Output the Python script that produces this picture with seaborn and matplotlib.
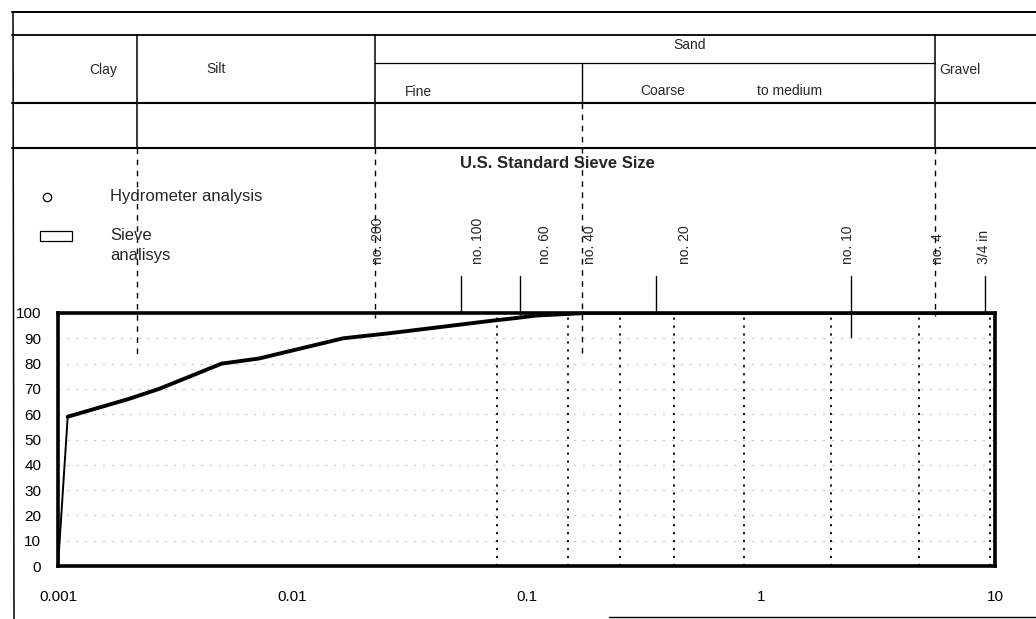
import matplotlib
matplotlib.use("Agg")
import matplotlib.pyplot as plt
from matplotlib.lines import Line2D
from matplotlib.patches import Rectangle
import pandas as pd
import seaborn as sns

# ---- grain-size distribution: particle diameter (mm) vs percent passing ----
grain_size_mm = [0.001, 0.0011, 0.002, 0.0027, 0.005, 0.0072, 0.0165, 0.026,
                 0.072, 0.09, 0.11, 0.18, 10.0]
percent_passing = [0, 59, 66, 70, 80, 82, 90, 92, 97, 98, 99, 100, 100]

# sieve openings (mm) shown as dotted verticals inside the chart
sieve_openings_mm = [0.075, 0.15, 0.25, 0.425, 0.85, 2.0, 4.75, 9.5]

# text content
sieve_labels = ["no. 200", "no. 100", "no. 60", "no. 40", "no. 20",
                "no. 10", "no. 4", "3/4 in"]
soil_classes = ["Clay", "Silt", "Sand", "Gravel"]
sand_subclasses = ["Fine", "Coarse", "to medium"]
x_ticks = [0.001, 0.01, 0.1, 1, 10]
x_tick_labels = ["0.001", "0.01", "0.1", "1", "10"]
y_ticks = list(range(0, 101, 10))
legend_labels = ["Hydrometer analysis", "Sieve", "analisys"]
sieve_title = "U.S. Standard Sieve Size"

# ---- layout (pixel positions on a 1036 x 619 canvas) ----
W, H = 1036, 619
AX_L, AX_R, AX_T, AX_B = 58, 995, 313, 566
sieve_label_x = [378, 478, 545, 590, 685, 848, 938, 984]
sieve_tick_x = [461, 520, 656, 851, 985]
sieve_tick_end = [313, 315, 313, 337, 313]
class_text_pos = [(103, 70), (216, 69), (690, 45), (960, 70)]
subclass_text_pos = [(418, 92), (663, 91), (790, 91)]

sns.set_style("white")
plt.rcParams["font.family"] = ["Liberation Sans Narrow", "Liberation Sans", "DejaVu Sans"]

fig = plt.figure(figsize=(W / 100, H / 100), dpi=100)
fig.patch.set_facecolor("white")


def fx(x):
    return x / W


def fy(y):
    return 1 - y / H


def seg(x0, y0, x1, y1, lw=1.2, ls="-", color="black"):
    fig.add_artist(Line2D([fx(x0), fx(x1)], [fy(y0), fy(y1)],
                          transform=fig.transFigure, lw=lw, ls=ls, color=color))


ax = fig.add_axes([fx(AX_L), fy(AX_B), (AX_R - AX_L) / W, (AX_B - AX_T) / H])

df = pd.DataFrame({"size": grain_size_mm, "passing": percent_passing})

# light background grid
for v in y_ticks[1:-1]:
    ax.axhline(v, color="#c4c4c4", lw=0.8, ls=(0, (2, 6)), zorder=0)

# sieve openings
for s in sieve_openings_mm:
    ax.axvline(s, color="black", lw=1.3, ls=(0, (1.2, 3.2)), zorder=1)

# gradation curve: steep first leg drawn thin, rest thick
sns.lineplot(data=df.iloc[:2], x="size", y="passing", ax=ax, color="black",
             lw=1.4, estimator=None, sort=False, zorder=3)
sns.lineplot(data=df.iloc[1:], x="size", y="passing", ax=ax, color="black",
             lw=2.8, estimator=None, sort=False, zorder=3)

ax.set_xscale("log")
ax.set_xlim(x_ticks[0], x_ticks[-1])
ax.set_ylim(0, 100)
ax.set_xticks(x_ticks)
ax.set_xticklabels(x_tick_labels)
ax.set_yticks(y_ticks)
ax.set_yticklabels([str(v) for v in y_ticks])
ax.minorticks_off()
ax.tick_params(axis="both", length=0, labelsize=11, colors="black")
ax.tick_params(axis="x", pad=17)
ax.tick_params(axis="y", pad=12)
ax.set_xlabel("")
ax.set_ylabel("")
for sp in ax.spines.values():
    sp.set_visible(True)
    sp.set_color("black")
    sp.set_linewidth(2.6)

# ---- header table ----
seg(12, 12, W, 12, lw=1.4)
seg(12, 35, W, 35, lw=1.3)
seg(375, 63, 935, 63, lw=0.9)
seg(12, 103, W, 103, lw=1.5)
seg(12, 148, W, 148, lw=1.5)
seg(13, 12, 14, H, lw=1.1)
seg(609, 617, W, 617, lw=1.0)

dash = (0, (4, 4))
seg(137, 35, 137, 148, lw=1.1)
seg(137, 148, 137, 357, lw=1.0, ls=dash)
seg(375, 35, 375, 148, lw=1.1)
seg(375, 148, 375, 318, lw=1.0, ls=dash)
seg(582, 63, 582, 103, lw=1.0)
seg(582, 103, 582, 357, lw=1.0, ls=dash)
seg(935, 35, 935, 148, lw=1.1)
seg(935, 148, 935, 316, lw=1.0, ls=dash)

for name, (x, y) in zip(soil_classes, class_text_pos):
    fig.text(fx(x), fy(y), name, ha="center", va="center", fontsize=10)
for name, (x, y) in zip(sand_subclasses, subclass_text_pos):
    fig.text(fx(x), fy(y), name, ha="center", va="center", fontsize=10)

# ---- sieve size annotations ----
fig.text(fx(557), fy(163), sieve_title, ha="center", va="center",
         fontsize=12, fontweight="bold")
for lab, x in zip(sieve_labels, sieve_label_x):
    fig.text(fx(x), fy(264), lab, ha="center", va="bottom", rotation=90,
             fontsize=10)
for x, yend in zip(sieve_tick_x, sieve_tick_end):
    seg(x, 276, x, yend, lw=1.0)

# ---- legend ----
fig.add_artist(Line2D([fx(47)], [fy(197)], transform=fig.transFigure,
                      marker="o", ms=6, mfc="white", mec="black", mew=0.9,
                      ls="none"))
fig.add_artist(Rectangle((fx(40), fy(241)), (72 - 40) / W, (241 - 231) / H,
                         transform=fig.transFigure, fill=False,
                         edgecolor="black", lw=0.9))
fig.text(fx(110), fy(196), legend_labels[0], ha="left", va="center", fontsize=12)
fig.text(fx(110), fy(235), legend_labels[1], ha="left", va="center", fontsize=12)
fig.text(fx(110), fy(255), legend_labels[2], ha="left", va="center", fontsize=12)

fig.savefig("out.png", dpi=100, facecolor="white")
